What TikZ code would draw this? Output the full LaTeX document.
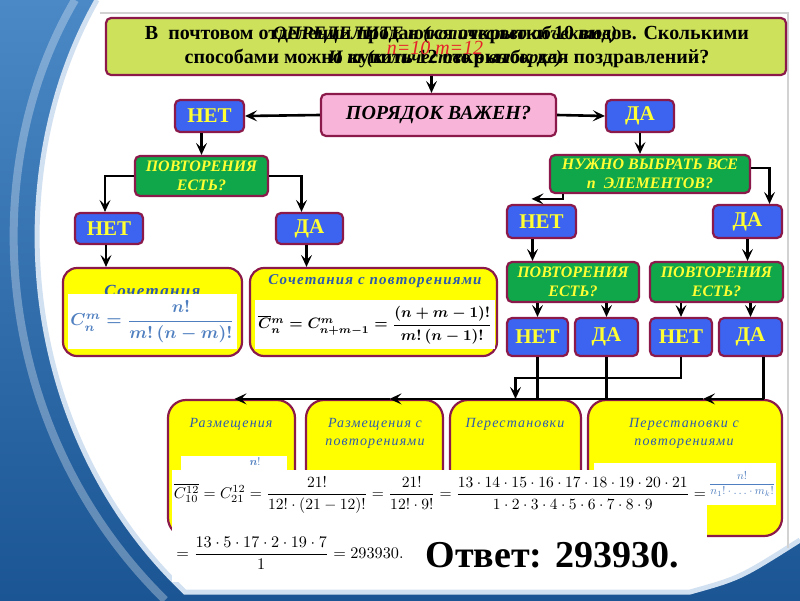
\documentclass[tikz,border=0pt]{standalone}
\usepackage{fontspec}
\setmainfont{Liberation Serif}
\newfontfamily\spit[LetterSpace=8]{Liberation Serif}
\usepackage{amsmath}
\usepackage{graphicx}
\usetikzlibrary{arrows.meta}
\definecolor{bord}{HTML}{8B1A4B}
\definecolor{titleg}{HTML}{CDE15A}
\definecolor{pinkb}{HTML}{F9B5D9}
\definecolor{blueb}{HTML}{3C64F0}
\definecolor{greenb}{HTML}{10A64A}
\definecolor{yelt}{HTML}{FFFF33}
\definecolor{ybox}{HTML}{FFFF00}
\definecolor{bluet}{HTML}{2E5AAC}
\definecolor{formb}{HTML}{4F7FC0}
\definecolor{bgdark}{HTML}{1B5593}
\definecolor{bglight}{HTML}{4A88C6}
\definecolor{redt}{HTML}{E8202A}
\begin{document}
\begin{tikzpicture}[x=1pt,y=-1pt,
  cbox/.style={draw=bord, line width=2.2pt, rounded corners=5pt, inner sep=0pt, align=center},
  bluebox/.style={cbox, fill=blueb, text=yelt, font=\fontsize{21}{23}\selectfont\bfseries},
  greenbox/.style={cbox, fill=greenb, text=yelt, font=\fontsize{16}{19}\selectfont\bfseries\itshape},
  ybig/.style={cbox, fill=ybox, rounded corners=18pt},
  wbox/.style={fill=white, inner sep=0pt},
  arr/.style={-{Stealth[length=12pt,width=11pt,inset=5pt]}, line width=2.6pt},
  ln/.style={line width=2.6pt},
  ttl/.style={text=bluet, font=\fontsize{14}{18}\selectfont\spit\itshape, align=center},
]
\useasboundingbox (0,0) rectangle (800,600);
% background
\shade[top color=bglight, bottom color=bgdark] (0,0) rectangle (800,600);
\draw[white, opacity=0.3, line width=8pt] (75,0) .. controls (-25,170) and (-8,430) .. (165,600);
\fill[white] (97,0) .. controls (0,170) and (15,430) .. (185,592) -- (690,592) .. controls (740,578) .. (800,540) -- (800,0) -- cycle;
\draw[white!75!bglight, line width=5pt] (97,0) .. controls (0,170) and (15,430) .. (185,592) -- (690,592) .. controls (740,578) .. (800,540);
\draw[gray!35, line width=2pt] (100,13) -- (788,13) -- (788,548);

% title
\node[cbox, fill=titleg, minimum width=680pt, minimum height=57pt] (title) at (446,46.5) {};
\node[font=\fontsize{20}{24}\selectfont\bfseries, align=center] (ttext) at (447,47) {В\ \ почтовом отделении продаются открытки 10 видов. Сколькими\\способами можно купить 12 открыток для поздравлений?};
\node[font=\fontsize{19}{24}\selectfont\bfseries\itshape] (ov1) at (445,35) {ОПРЕДЕЛИТЕ n (количество объектов)};
\node[font=\fontsize{19}{24}\selectfont\bfseries\itshape] (ov2) at (445,59) {И m (количество в выборке)};
\node[text=redt, font=\fontsize{20}{20}\selectfont\itshape] (nm) at (435,48) {n=10 m=12};

% level 1
\node[cbox, fill=pinkb, minimum width=235pt, minimum height=42pt, font=\fontsize{20}{22}\selectfont\bfseries\itshape] (prd) at (438.5,115) {ПОРЯДОК ВАЖЕН?};
\node[bluebox, minimum width=69pt, minimum height=32pt] (net1) at (209.5,116) {НЕТ};
\node[bluebox, minimum width=68pt, minimum height=32pt] (da1) at (640,116) {ДА};

% left branch
\node[greenbox, minimum width=133pt, minimum height=40pt] (gL) at (201.5,176) {ПОВТОРЕНИЯ\\ЕСТЬ?};
\node[bluebox, minimum width=68pt, minimum height=31pt] (net2) at (109,228.5) {НЕТ};
\node[bluebox, minimum width=67pt, minimum height=31pt] (da2) at (309.5,228.5) {ДА};

\node[ybig, rounded corners=14pt, minimum width=179pt, minimum height=88pt] (ys) at (152.5,312) {};
\node[ttl, font=\fontsize{17}{18}\selectfont\spit\bfseries\itshape] (ystl) at (152.5,291) {Сочетания};
\node[wbox, minimum width=169pt, minimum height=55pt] (ysw) at (152.5,321.5) {};
\node[text=formb] (ysf) at (152.5,322) {\resizebox{164pt}{!}{$\boldsymbol{C_n^m = \dfrac{n!}{m!\,(n-m)!}}$}};

\node[ybig, rounded corners=14pt, minimum width=247pt, minimum height=88pt] (ysp) at (373.5,312) {};
\node[ttl, font=\fontsize{15}{18}\selectfont\spit\bfseries\itshape] (ysptl) at (375,281) {Сочетания с повторениями};
\node[wbox, minimum width=240pt, minimum height=49pt] (yspw) at (375,324.5) {};
\node (yspf) at (375,325) {\resizebox{234pt}{!}{$\boldsymbol{\overline{C}{}_n^m = C_{n+m-1}^m = \dfrac{(n+m-1)!}{m!\,(n-1)!}}$}};

% right branch
\node[greenbox, minimum width=200pt, minimum height=38pt] (gR) at (650,174) {НУЖНО ВЫБРАТЬ ВСЕ\\n\ \ ЭЛЕМЕНТОВ?};
\node[bluebox, minimum width=69pt, minimum height=33pt] (net3) at (541.5,221.5) {НЕТ};
\node[bluebox, minimum width=69pt, minimum height=33pt] (da3) at (747.5,221.5) {ДА};
\node[greenbox, minimum width=132pt, minimum height=40pt] (gL2) at (573,282) {ПОВТОРЕНИЯ\\ЕСТЬ?};
\node[greenbox, minimum width=133pt, minimum height=40pt] (gR2) at (716.5,282) {ПОВТОРЕНИЯ\\ЕСТЬ?};
\node[bluebox, minimum width=61pt, minimum height=38pt] (net4) at (537.5,337) {НЕТ};
\node[bluebox, minimum width=63pt, minimum height=38pt] (da4) at (606.5,337) {ДА};
\node[bluebox, minimum width=62pt, minimum height=38pt] (net5) at (681,337) {НЕТ};
\node[bluebox, minimum width=63pt, minimum height=38pt] (da5) at (750.5,337) {ДА};

% bottom boxes
\node[ybig, minimum width=127pt, minimum height=136pt] (b1) at (231.5,468) {};
\node[ybig, minimum width=137pt, minimum height=136pt] (b2) at (374.5,468) {};
\node[ybig, minimum width=131pt, minimum height=136pt] (b3) at (515.5,468) {};
\node[ybig, minimum width=194pt, minimum height=136pt] (b4) at (685,468) {};
\node[ttl] (b1t) at (231,424) {Размещения};
\node[ttl] (b2t) at (375,433) {Размещения с\\повторениями};
\node[ttl] (b3t) at (515,424) {Перестановки};
\node[ttl] (b4t) at (684,433) {Перестановки с\\повторениями};
\node[wbox, minimum width=106pt, minimum height=15pt] (b1w) at (234,463.5) {};
\node[text=formb, inner sep=0pt] (b1n) at (255,462) {\resizebox{11pt}{!}{$\boldsymbol{n}!$}};
\node[wbox, minimum width=182pt, minimum height=42pt] (b4w) at (685,484) {};
\node[text=formb] (b4f) at (742,484) {\resizebox{66pt}{!}{$\dfrac{n!}{n_1!\cdot\ldots\cdot m_k!}$}};

% formula band
\node[wbox, minimum width=535pt, minimum height=112pt] (band) at (439.5,526) {};
\node[inner sep=0pt] (f1) at (440,495) {\resizebox{532pt}{!}{$\overline{C_{10}^{12}} = C_{21}^{12} = \dfrac{21!}{12!\cdot(21-12)!} = \dfrac{21!}{12!\cdot 9!} = \dfrac{13\cdot14\cdot15\cdot16\cdot17\cdot18\cdot19\cdot20\cdot21}{1\cdot2\cdot3\cdot4\cdot5\cdot6\cdot7\cdot8\cdot9} =$}};
\node (f2) at (290,553) {\resizebox{227pt}{!}{$=\dfrac{13\cdot5\cdot17\cdot2\cdot19\cdot7}{1}=293930.$}};
\node[font=\fontsize{38}{40}\selectfont\bfseries] (ans) at (552,555) {Ответ: 293930.};

% connectors
\draw[arr] ([xshift=-7pt]prd.north |- title.south) -- ([xshift=-7pt]prd.north);
\draw[arr] (prd.west) -- (net1.east);
\draw[arr] (prd.east) -- (da1.west);
\draw[arr] (gL.north |- net1.south) -- (gL.north);
\draw[arr] (gL.west) -| ([xshift=-4pt]net2.north);
\draw[arr] (gL.east) -| ([xshift=-8pt]da2.north);
\draw[arr] ([xshift=-3pt]net2.south) -- ([xshift=-3pt]net2.south |- ys.north);
\draw[arr] ([xshift=-3pt]da2.south) -- ([xshift=-3pt]da2.south |- ysp.north);
\draw[arr] (da1.south) -- (da1.south |- gR.north);
\draw[arr] ([yshift=6pt]gR.east) -| ([xshift=22pt]da3.north);
\draw[arr] ([xshift=-87pt]gR.south) |- ([xshift=-10pt,yshift=5pt]net3.north);
\draw[arr] ([xshift=-9pt]net3.south) -- ([xshift=-9pt]net3.south |- gL2.north);
\draw[arr] (da3.south) -- (da3.south |- gR2.north);
\draw[arr] (net4.north |- gL2.south) -- (net4.north);
\draw[arr] (da4.north |- gL2.south) -- (da4.north);
\draw[arr] (net5.north |- gR2.south) -- (net5.north);
\draw[arr] (da5.north |- gR2.south) -- (da5.north);
\draw[ln] (net4.south) -- (net4.south |- b3.north);
\draw[ln] (da4.south) -- (da4.south |- b4.north);
\draw[arr] (net5.south) |- ([yshift=21pt]b3.north) -- (b3.north);
\draw[ln] ([xshift=13pt]da5.south) -- ([xshift=13pt]da5.south |- b4.north);
\draw[arr] ([xshift=13pt]da5.south |- b4.north) -- ([xshift=18pt]b4.north);
\draw[arr] ([xshift=18pt]b4.north) -- ([xshift=15pt]b2.north);
\draw[arr] ([xshift=15pt]b2.north) -- ([xshift=3pt]b1.north);
\end{tikzpicture}
\end{document}
